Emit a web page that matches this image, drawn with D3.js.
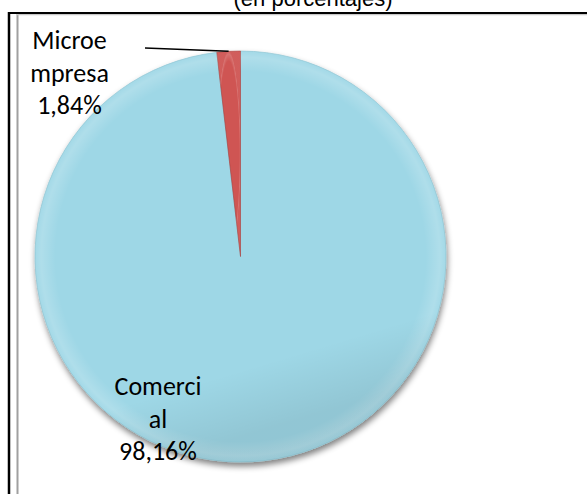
<!DOCTYPE html>
<html>
<head>
<meta charset="utf-8">
<title>Pie</title>
<script src="https://cdn.jsdelivr.net/npm/d3@7"></script>
<style>
  html, body { margin: 0; padding: 0; background: #fff; }
  svg { display: block; }
</style>
</head>
<body>
<div id="chart"></div>
<script>
// data
var categories = ["Comercial", "Microempresa"];
var values = [98.16, 1.84];
var labelText = [["Comerci", "al", "98,16%"], ["Microe", "mpresa", "1,84%"]];
var colors = ["#9ed7e6", "#cf5553"];
var title = "(en porcentajes)";

var width = 587, height = 494;
var cx = 240.5, cy = 256.5, r = 205.5;

var svg = d3.select("#chart").append("svg")
    .attr("width", width)
    .attr("height", height);

var defs = svg.append("defs");

// soft shadow under the pie
var shadow = defs.append("filter").attr("id", "shadow")
    .attr("x", "-20%").attr("y", "-20%").attr("width", "140%").attr("height", "140%");
shadow.append("feGaussianBlur").attr("in", "SourceAlpha").attr("stdDeviation", 3).attr("result", "b");
shadow.append("feOffset").attr("in", "b").attr("dx", 1).attr("dy", 4).attr("result", "o");
shadow.append("feComponentTransfer").attr("in", "o").attr("result", "s")
  .append("feFuncA").attr("type", "linear").attr("slope", 0.5);
var merge = shadow.append("feMerge");
merge.append("feMergeNode").attr("in", "s");
merge.append("feMergeNode").attr("in", "SourceGraphic");

// bevel: light rim near the edge
var rim = defs.append("radialGradient").attr("id", "rim")
    .attr("cx", "50%").attr("cy", "50%").attr("r", "50%");
rim.append("stop").attr("offset", "0%").attr("stop-color", "#fff").attr("stop-opacity", 0);
rim.append("stop").attr("offset", "90%").attr("stop-color", "#fff").attr("stop-opacity", 0);
rim.append("stop").attr("offset", "97%").attr("stop-color", "#fff").attr("stop-opacity", 0.18);
rim.append("stop").attr("offset", "100%").attr("stop-color", "#fff").attr("stop-opacity", 0.05);

var shade = defs.append("linearGradient").attr("id", "shade")
    .attr("x1", 0).attr("y1", 0).attr("x2", 0.3).attr("y2", 1);
shade.append("stop").attr("offset", "0%").attr("stop-color", "#000").attr("stop-opacity", 0);
shade.append("stop").attr("offset", "85%").attr("stop-color", "#000").attr("stop-opacity", 0);
shade.append("stop").attr("offset", "100%").attr("stop-color", "#000").attr("stop-opacity", 0.08);

// title (clipped at top, as in the source)
svg.append("text")
    .attr("x", 313).attr("y", 6)
    .attr("text-anchor", "middle")
    .style("font-family", "'Liberation Sans', Arial, sans-serif")
    .style("font-size", "22px")
    .style("fill", "#000")
    .text(title);

// frame
svg.append("line").attr("x1", 17.5).attr("y1", 14).attr("x2", 17.5).attr("y2", height)
    .style("stroke", "#a0a0a0").style("stroke-width", 2);
svg.append("line").attr("x1", 17).attr("y1", 14.5).attr("x2", width).attr("y2", 14.5)
    .style("stroke", "#c8c8c8").style("stroke-width", 1.5);
svg.append("line").attr("x1", 9).attr("y1", 12).attr("x2", 9).attr("y2", height)
    .style("stroke", "#000").style("stroke-width", 2.5);
svg.append("line").attr("x1", 8).attr("y1", 13).attr("x2", width).attr("y2", 13)
    .style("stroke", "#000").style("stroke-width", 2);

// pie
var pie = d3.pie().sort(null).value(function(d) { return d; });
var arcs = pie(values);
var arc = d3.arc().innerRadius(0).outerRadius(r);

var g = svg.append("g").attr("transform", "translate(" + cx + "," + cy + ")");

g.append("g").attr("filter", "url(#shadow)")
  .selectAll("path").data(arcs).enter().append("path")
    .attr("d", arc)
    .style("fill", function(d, i) { return colors[i]; })
    .style("stroke", function(d, i) { return i === 0 ? "#86bfcf" : "#a94240"; })
    .style("stroke-width", 0.6);

// bevel overlay per slice
g.selectAll("path.rim").data(arcs).enter().append("path")
    .attr("class", "rim")
    .attr("d", arc)
    .style("fill", "url(#rim)")
    .style("pointer-events", "none");
g.append("circle").attr("r", r).style("fill", "url(#shade)");

// labels
var fontLabel = "Carlito, Calibri, Lato, sans-serif";
var lineGap = 32.5;
var labelPos = [[158, 395], [69.5, 49]];

labelText.forEach(function(lines, i) {
  var t = svg.append("text")
      .attr("text-anchor", "middle")
      .style("font-family", fontLabel)
      .style("font-size", "26px")
      .style("fill", "#000");
  lines.forEach(function(s, k) {
    t.append("tspan")
      .attr("x", labelPos[i][0])
      .attr("y", labelPos[i][1] + k * lineGap)
      .text(s);
  });
});

// leader line for the small slice
var small = arcs[1];
var mid = (small.startAngle + small.endAngle) / 2;
svg.append("line")
    .attr("x1", 145).attr("y1", 48)
    .attr("x2", cx + r * Math.sin(mid))
    .attr("y2", cy - r * Math.cos(mid))
    .style("stroke", "#000").style("stroke-width", 1.5);
</script>
</body>
</html>
